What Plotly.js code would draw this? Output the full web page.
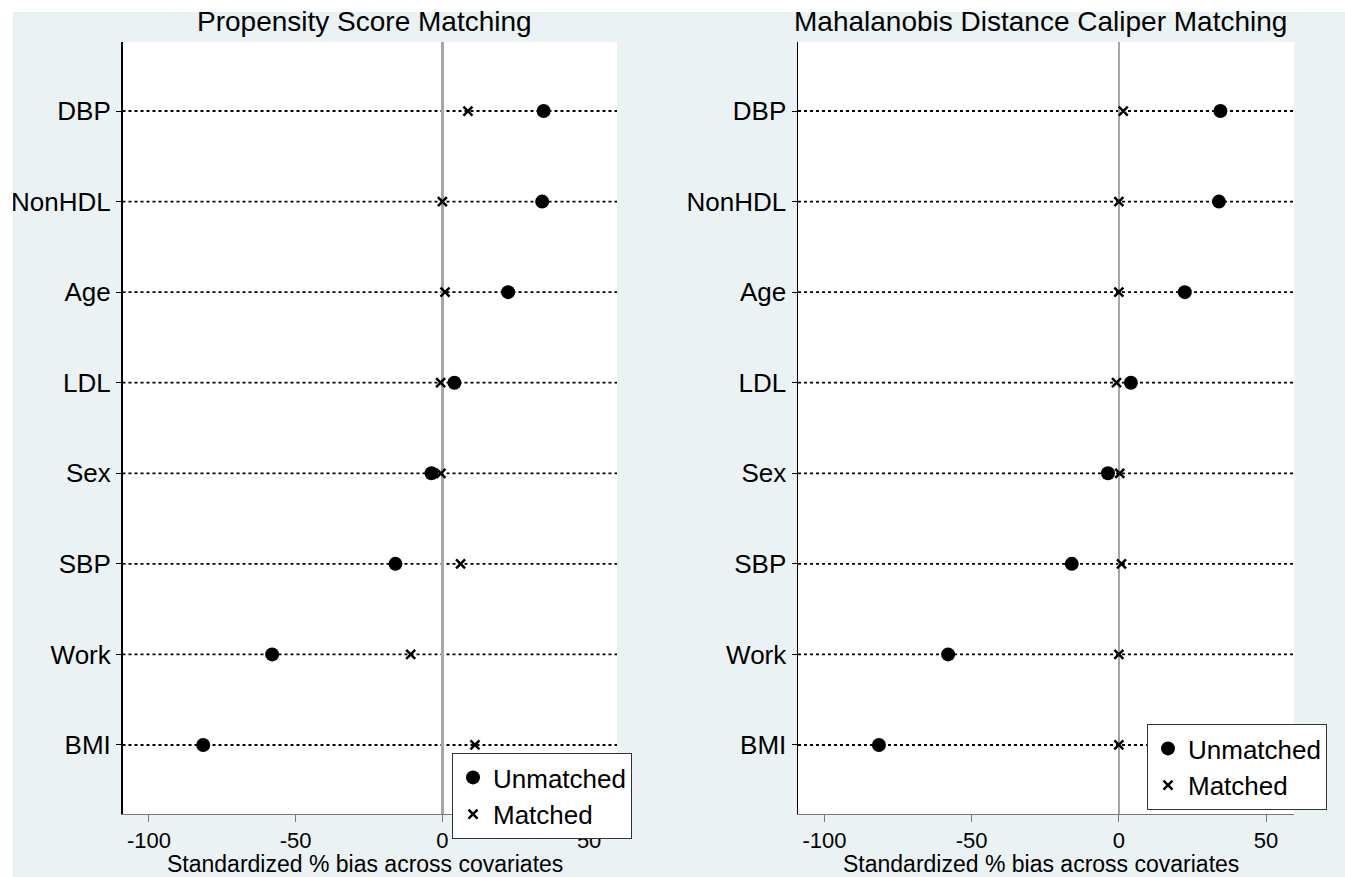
<!DOCTYPE html>
<html>
<head>
<meta charset="utf-8">
<script src="https://cdn.plot.ly/plotly-3.0.1.min.js"></script>
<style>
  html, body { margin: 0; padding: 0; background: #ffffff; }
  #chart { width: 1345px; height: 877px; }
</style>
</head>
<body>
<div id="chart"></div>
<script>
// ---- data (bottom to top, as drawn) ----
const covariates = ['BMI', 'Work', 'SBP', 'Sex', 'LDL', 'Age', 'NonHDL', 'DBP'];
const unmatchedBias = [-81.5, -58.0, -16.0, -3.7, 4.1, 22.4, 34.0, 34.5];
const psmMatchedBias = [11.1, -10.8, 6.2, -0.5, -0.6, 0.9, 0.0, 8.7];
const mahMatchedBias = [0.0, 0.0, 0.9, 0.3, -0.8, 0.0, 0.0, 1.5];
const panelTitles = ['Propensity Score Matching', 'Mahalanobis Distance Caliper Matching'];
const xTickVals = [-100, -50, 0, 50];
const xAxisTitle = 'Standardized % bias across covariates';
const seriesNames = ['Unmatched', 'Matched'];

const FONT = 'Liberation Sans, Arial, Helvetica, sans-serif';
const BG = '#eaf2f3';
const W = 1345, H = 877;

function unmatchedTrace(xa, ya, leg) {
  return {
    type: 'scatter', mode: 'markers', name: seriesNames[0],
    x: unmatchedBias, y: covariates, xaxis: xa, yaxis: ya, legend: leg,
    marker: { symbol: 'circle', size: 14, color: '#000000', line: { width: 0 } },
    hoverinfo: 'x+y'
  };
}
function matchedTrace(vals, xa, ya, leg) {
  return {
    type: 'scatter', mode: 'markers', name: seriesNames[1],
    x: vals, y: covariates, xaxis: xa, yaxis: ya, legend: leg,
    marker: { symbol: 'x-thin-open', size: 9, color: '#000000', line: { width: 2.5, color: '#000000' } },
    hoverinfo: 'x+y'
  };
}

const traces = [
  unmatchedTrace('x', 'y', 'legend'),
  matchedTrace(psmMatchedBias, 'x', 'y', 'legend'),
  unmatchedTrace('x2', 'y2', 'legend2'),
  matchedTrace(mahMatchedBias, 'x2', 'y2', 'legend2')
];

const yDomain = [(H - 814) / H, (H - 42) / H];
const xDomain1 = [122.5 / W, 617 / W];
const xDomain2 = [798 / W, 1294 / W];
const xRange = [-109, 59.5];
const yRange = [-0.762, 7.762];

function xAxis(domain, anchor) {
  return {
    domain: domain, anchor: anchor, range: xRange, autorange: false,
    tickmode: 'array', tickvals: xTickVals, ticktext: xTickVals.map(String),
    ticks: 'outside', ticklen: 7, tickwidth: 1, tickcolor: '#777777',
    showline: true, linecolor: '#777777', linewidth: 1,
    showgrid: false, zeroline: true, zerolinecolor: '#a6a6a6', zerolinewidth: 2.5,
    tickfont: { family: FONT, size: 22, color: '#000000' },
    ticklabelstandoff: 0, fixedrange: true
  };
}
function yAxis(anchor) {
  return {
    domain: yDomain, anchor: anchor, type: 'category',
    categoryorder: 'array', categoryarray: covariates,
    range: yRange, autorange: false,
    showline: true, linecolor: '#000000', linewidth: 1.5,
    ticks: 'outside', ticklen: 5, tickcolor: '#000000', tickwidth: 1,
    showgrid: false, zeroline: false,
    tickfont: { family: FONT, size: 26, color: '#000000' },
    fixedrange: true
  };
}

// dotted reference lines at each covariate, spanning the panel
const shapes = [];
[['x', 'y'], ['x2', 'y2']].forEach(([xa, ya]) => {
  covariates.forEach(c => {
    shapes.push({
      type: 'line', xref: xa + ' domain', yref: ya, x0: 0, x1: 1, y0: c, y1: c,
      line: { color: '#000000', width: 1.8, dash: 'dot' }, layer: 'below'
    });
  });
});
// white outer border strips (top and left) of the original figure
shapes.push({ type: 'rect', xref: 'paper', yref: 'paper', x0: 0, x1: 1, y0: 1 - 12 / H, y1: 1,
  fillcolor: '#ffffff', line: { width: 0 }, layer: 'above' });
shapes.push({ type: 'rect', xref: 'paper', yref: 'paper', x0: 0, x1: 13 / W, y0: 0, y1: 1,
  fillcolor: '#ffffff', line: { width: 0 }, layer: 'above' });

const annotations = [
  { text: panelTitles[0], xref: 'x domain', yref: 'paper', x: 0.49, y: 1 - 21 / H,
    xanchor: 'center', yanchor: 'middle', showarrow: false,
    font: { family: FONT, size: 28, color: '#000000' } },
  { text: panelTitles[1], xref: 'x2 domain', yref: 'paper', x: 0.488, y: 1 - 21 / H,
    xanchor: 'center', yanchor: 'middle', showarrow: false,
    font: { family: FONT, size: 28, color: '#000000' } },
  { text: xAxisTitle, xref: 'x domain', yref: 'paper', x: 0.49, y: 1 - 864 / H,
    xanchor: 'center', yanchor: 'middle', showarrow: false,
    font: { family: FONT, size: 23, color: '#000000' } },
  { text: xAxisTitle, xref: 'x2 domain', yref: 'paper', x: 0.49, y: 1 - 864 / H,
    xanchor: 'center', yanchor: 'middle', showarrow: false,
    font: { family: FONT, size: 23, color: '#000000' } }
];

function legendCfg(x, yTop) {
  return {
    x: x / W, y: 1 - yTop / H, xanchor: 'left', yanchor: 'top',
    xref: 'paper', yref: 'paper',
    bgcolor: '#ffffff', bordercolor: '#333333', borderwidth: 1,
    font: { family: FONT, size: 26, color: '#000000' },
    itemsizing: 'trace', tracegroupgap: 0, itemclick: false, itemdoubleclick: false
  };
}

const layout = {
  width: W, height: H,
  margin: { l: 0, r: 0, t: 0, b: 0, autoexpand: false },
  paper_bgcolor: BG, plot_bgcolor: '#ffffff',
  font: { family: FONT, color: '#000000' },
  showlegend: true,
  xaxis: xAxis(xDomain1, 'y'),
  yaxis: yAxis('x'),
  xaxis2: xAxis(xDomain2, 'y2'),
  yaxis2: yAxis('x2'),
  legend: legendCfg(452, 753),
  legend2: legendCfg(1147, 724),
  shapes: shapes,
  annotations: annotations
};

Plotly.newPlot('chart', traces, layout, { displayModeBar: false, staticPlot: true });
</script>
</body>
</html>
